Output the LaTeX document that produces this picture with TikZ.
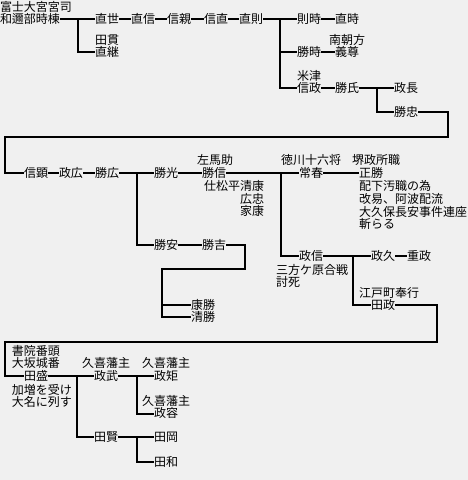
\documentclass[tikz,border=0pt]{standalone}
\usepackage{fontspec}
\newfontfamily\jp{Noto Sans CJK JP}
\definecolor{bg}{HTML}{F0F0F0}
\begin{document}
\begin{tikzpicture}[x=1pt,y=-1pt,
  nm/.style={anchor=west,inner sep=0pt,outer sep=0pt,font=\jp\fontsize{12}{12}\selectfont,text height=10pt,text depth=1.5pt},
  ln/.style={line width=2pt}]
\fill[bg] (0,0) rectangle (468,480);
\useasboundingbox (0,0) rectangle (468,480);
% ---- group A
\node[nm] (a0) at (0,7) {富士大宮宮司};
\node[nm] (tokimune) at (0,19) {和邇部時棟};
\node[nm] (naoyo) at (95,19) {直世};
\node[nm] (a1) at (95,40) {田貫};
\node[nm] (naotsugu) at (95,52) {直継};
\node[nm] (naonobu) at (131,19) {直信};
\node[nm] (nobuchika) at (167,19) {信親};
\node[nm] (nobunao) at (204,19) {信直};
\node[nm] (naonori) at (239,19) {直則};
\node[nm] (noritoki) at (297,19) {則時};
\node[nm] (naotoki) at (335,19) {直時};
\node[nm] (katsutoki) at (297,52) {勝時};
\node[nm] (a2) at (329,40) {南朝方};
\node[nm] (yoshitaka) at (335,52) {義尊};
\node[nm] (a3) at (297,76) {米津};
\node[nm] (nobumasa) at (297,88) {信政};
\node[nm] (katsuuji) at (335,88) {勝氏};
\node[nm] (masanaga) at (394,88) {政長};
\node[nm] (katsutada) at (394,112) {勝忠};
\coordinate (j1) at (78,19);
\coordinate (j2) at (280,19);
\coordinate (j3) at (377,88);
\coordinate (w1) at (448,112);
\coordinate (w2) at (448,137);
\coordinate (w3) at (5,137);
\coordinate (w4) at (5,173);
\draw[ln] (tokimune) -- (naoyo);
\draw[ln] (j1) |- (naotsugu.west);
\draw[ln] (naoyo) -- (naonobu);
\draw[ln] (naonobu) -- (nobuchika);
\draw[ln] (nobuchika) -- (nobunao);
\draw[ln] (nobunao) -- (naonori);
\draw[ln] (naonori) -- (noritoki);
\draw[ln] (noritoki) -- (naotoki);
\draw[ln] (j2) |- (katsutoki.west);
\draw[ln] (j2) |- (nobumasa.west);
\draw[ln] (katsutoki) -- (yoshitaka);
\draw[ln] (nobumasa) -- (katsuuji);
\draw[ln] (katsuuji) -- (masanaga);
\draw[ln] (j3) |- (katsutada.west);
% ---- group B
\node[nm] (nobuaki) at (24,173) {信顕};
\node[nm] (masahiro) at (59,173) {政広};
\node[nm] (katsuhiro) at (95,173) {勝広};
\node[nm] (katsumitsu) at (154,173) {勝光};
\node[nm] (b1) at (197,160) {左馬助};
\node[nm] (katsunobu) at (202,173) {勝信};
\node[nm,anchor=east] (b2) at (264,186) {仕松平清康};
\node[nm,anchor=east] (b3) at (264,199) {広忠};
\node[nm,anchor=east] (b4) at (264,211) {家康};
\node[nm] (b5) at (281,160) {徳川十六将};
\node[nm] (tsuneharu) at (299,173) {常春};
\node[nm] (b6) at (352,160) {堺政所職};
\node[nm] (masakatsu) at (359,173) {正勝};
\node[nm] (b7) at (359,186) {配下汚職の為};
\node[nm] (b8) at (359,199) {改易、阿波配流};
\node[nm] (b9) at (359,212) {大久保長安事件連座};
\node[nm] (b10) at (359,224) {斬らる};
\node[nm] (katsuyasu) at (154,245) {勝安};
\node[nm] (katsuyoshi) at (202,245) {勝吉};
\node[nm] (yasukatsu) at (191,305) {康勝};
\node[nm] (kiyokatsu) at (191,317) {清勝};
\node[nm] (masanobu) at (299,256) {政信};
\node[nm] (b11) at (276,270) {三方ケ原合戦};
\node[nm] (b12) at (276,282) {討死};
\node[nm] (masahisa) at (371,256) {政久};
\node[nm] (shigemasa) at (407,256) {重政};
\node[nm] (b13) at (359,293) {江戸町奉行};
\node[nm] (denmasa) at (371,305) {田政};
\coordinate (j4) at (137,173);
\coordinate (j5) at (281,173);
\coordinate (k1) at (245,245);
\coordinate (k2) at (245,269);
\coordinate (k3) at (162,269);
\coordinate (j6) at (353,256);
\coordinate (v1) at (437,305);
\coordinate (v2) at (437,342);
\coordinate (v3) at (5,342);
\coordinate (v4) at (5,376);
\draw[ln] (katsutada.east) -- (w1) -- (w2) -- (w3) -- (w4) -- (nobuaki.west);
\draw[ln] (nobuaki) -- (masahiro);
\draw[ln] (masahiro) -- (katsuhiro);
\draw[ln] (katsuhiro) -- (katsumitsu);
\draw[ln] (j4) |- (katsuyasu.west);
\draw[ln] (katsumitsu) -- (katsunobu);
\draw[ln] (katsunobu) -- (tsuneharu);
\draw[ln] (j5) |- (masanobu.west);
\draw[ln] (tsuneharu) -- (masakatsu);
\draw[ln] (katsuyasu) -- (katsuyoshi);
\draw[ln] (katsuyoshi.east) -- (k1) -- (k2) -- (k3) |- (kiyokatsu.west);
\draw[ln] (k3) |- (yasukatsu.west);
\draw[ln] (masanobu) -- (masahisa);
\draw[ln] (masahisa) -- (shigemasa);
\draw[ln] (j6) |- (denmasa.west);
% ---- group C
\node[nm] (c1) at (12,351.5) {書院番頭};
\node[nm] (c2) at (12,363.5) {大坂城番};
\node[nm] (denmori) at (24,376) {田盛};
\node[nm] (c3) at (12,390) {加増を受け};
\node[nm] (c4) at (12,402) {大名に列す};
\node[nm] (c5) at (82,363.5) {久喜藩主};
\node[nm] (masatake) at (94,376) {政武};
\node[nm] (c6) at (142,363.5) {久喜藩主};
\node[nm] (masanori) at (154,376) {政矩};
\node[nm] (c7) at (142,401.5) {久喜藩主};
\node[nm] (masakata) at (154,413.5) {政容};
\node[nm] (denken) at (94,437) {田賢};
\node[nm] (denoka) at (154,437) {田岡};
\node[nm] (denwa) at (154,462) {田和};
\coordinate (j7) at (77,376);
\coordinate (j8) at (137,376);
\coordinate (j9) at (137,437);
\draw[ln] (denmasa.east) -- (v1) -- (v2) -- (v3) -- (v4) -- (denmori.west);
\draw[ln] (denmori) -- (masatake);
\draw[ln] (j7) |- (denken.west);
\draw[ln] (masatake) -- (masanori);
\draw[ln] (j8) |- (masakata.west);
\draw[ln] (denken) -- (denoka);
\draw[ln] (j9) |- (denwa.west);
\end{tikzpicture}
\end{document}
